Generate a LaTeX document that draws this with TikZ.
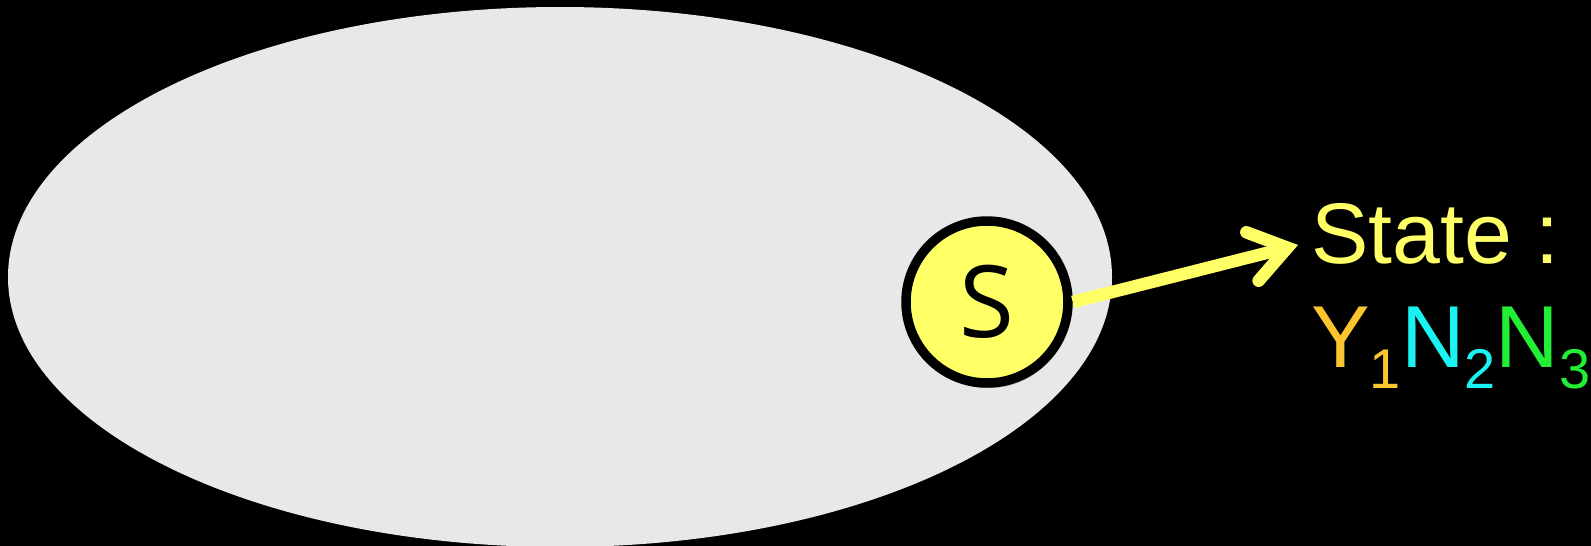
\documentclass[tikz,border=0pt]{standalone}
\usepackage{fontspec}
\setmainfont{Liberation Sans}
\newfontfamily\circfont{Open Sans}
\usetikzlibrary{arrows.meta,shapes.geometric,shadows}
\definecolor{stateyellow}{HTML}{FFFF66}
\definecolor{yorange}{HTML}{FCC52E}
\definecolor{ncyan}{HTML}{1BF2F2}
\definecolor{ngreen}{HTML}{22EE33}
\definecolor{ovalgray}{HTML}{E8E8E8}
\newcommand{\subnum}[1]{\raisebox{-21pt}{\fontsize{56}{56}\selectfont #1}}
\begin{document}
\begin{tikzpicture}[
                x=1pt, y=-1pt,
                statecircle/.style={circle, draw=black, line width=9.5pt, fill=stateyellow,
                    minimum size=162pt, inner sep=0pt,
                    drop shadow={shadow xshift=2pt, shadow yshift=-5pt, fill=black, opacity=0.3},
                    font=\circfont\fontsize{100}{100}\selectfont},
                statetext/.style={anchor=base west, inner sep=0pt,
                    font=\fontsize{86}{100}\selectfont},
                arrow/.style={-{Straight Barb[length=36pt, width=50pt, line cap=round]},
                    line width=12.5pt, stateyellow}
            ]
            % 背景
            \fill[black] (0,0) rectangle (1591,546);
            \useasboundingbox (0,0) rectangle (1591,546);

            % 椭圆
            \node[ellipse, fill=ovalgray, minimum width=1104pt, minimum height=540pt, inner sep=0pt] (space) at (560,277) {};

            % 状态 S
            \node[statecircle] (S) at (987,302) {S};

            % 文字
            \node[statetext, text=stateyellow] (state) at (1311,263) {State :};
            \node[statetext, font=\fontsize{88}{100}\selectfont] (code) at (1311,367)
                {{\color{yorange}Y\subnum{1}}{\color{ncyan}N\subnum{2}}{\color{ngreen}N\subnum{3}}};

            % 箭头
            \coordinate (tip) at (1298,245);
            \draw[arrow] (S.east) -- (tip);
        \end{tikzpicture}
\end{document}
